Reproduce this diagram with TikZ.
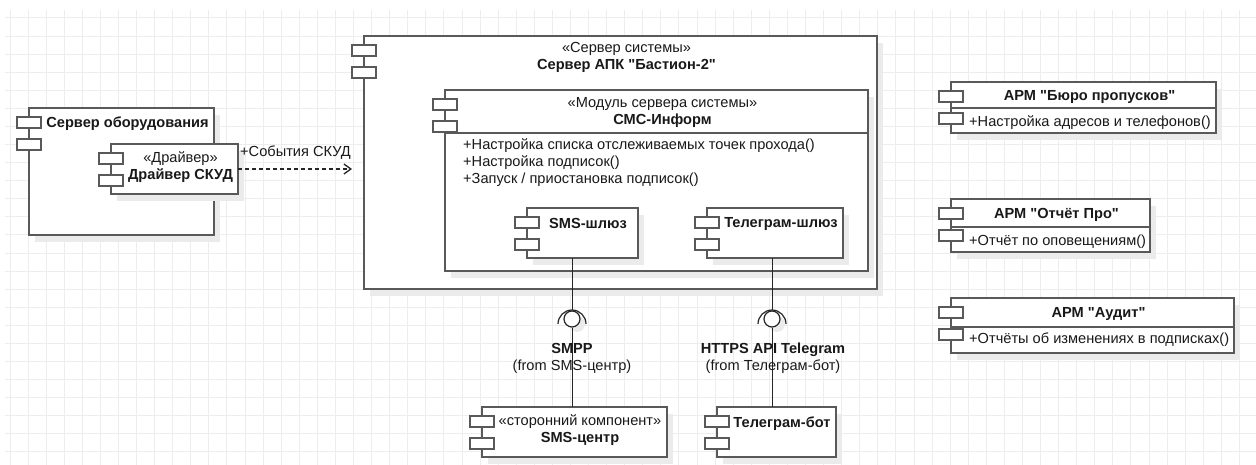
\documentclass[tikz,border=0pt]{standalone}
\usepackage{fontspec}
\setmainfont{Liberation Sans}[Ligatures=TeXOff]
\usetikzlibrary{arrows.meta,shadows}
\definecolor{linec}{HTML}{595959}
\definecolor{gridc}{HTML}{EDEDED}
\definecolor{shadowc}{HTML}{EBEBEB}
\begin{document}
\begin{tikzpicture}[x=1pt,y=-1pt,
  comp/.style={draw=linec, line width=1.4pt, fill=white, outer sep=0pt, inner sep=0pt, anchor=north west,
    drop shadow={shadow xshift=6pt, shadow yshift=-7pt, fill=shadowc, opacity=1}},
  cicon/.style={draw=linec, line width=1.4pt, fill=white},
  txt/.style={font=\fontsize{14.6}{17}\selectfont, text=black!90, inner sep=0pt, align=center},
  btxt/.style={txt, font=\fontsize{14.6}{17}\selectfont\bfseries},
  conn/.style={draw=black!85, line width=1pt},
  lolli/.style={draw=black!85, line width=1.2pt, fill=white, circle, minimum size=16pt, inner sep=0pt,
    drop shadow={shadow xshift=5pt, shadow yshift=-5pt, fill=shadowc, opacity=1}},
  dep/.style={draw=black!85, line width=1.3pt, dash pattern=on 4pt off 3pt, -{Straight Barb[length=7pt,width=10pt]}}]
\useasboundingbox (0,0) rectangle (1256,465);
\fill[white] (0,0) rectangle (1256,465);
% background grid
\foreach \i in {0,...,68} \draw[gridc, line width=1pt] (10+18.08*\i,10) -- (10+18.08*\i,465);
\foreach \j in {0,...,24} \draw[gridc, line width=1pt] (5,18+18.08*\j) -- (1256,18+18.08*\j);

% equipment server
\node[comp, minimum width=185pt, minimum height=127pt] (hw) at (29,108) {};
\node[comp, minimum width=127pt, minimum height=50pt] (drv) at (111,144) {};
\node[btxt] (hwT) at (127.5,123.5) {Сервер оборудования};
\node[txt] (drvT) at (180.5,167.5) {«Драйвер»\\\textbf{Драйвер СКУД}};

% system server
\node[comp, minimum width=513pt, minimum height=253pt] (srv) at (364,36) {};
\node[txt] (srvT) at (626.5,57.5) {«Сервер системы»\\\textbf{Сервер АПК "Бастион-2"}};
\node[comp, minimum width=423pt, minimum height=181pt] (inf) at (445,90) {};
\draw[draw=linec, line width=1.4pt] (inf.west |- 0,133) -- (inf.east |- 0,133);
\node[txt] (infT) at (662.5,112) {«Модуль сервера системы»\\\textbf{СМС-Информ}};
\node[txt, align=left, anchor=west] (infOps) at (463,163) {+Настройка списка отслеживаемых точек прохода()\\+Настройка подписок()\\+Запуск / приостановка подписок()};
\node[comp, minimum width=111pt, minimum height=50pt] (gwSms) at (527,208) {};
\node[btxt] (gwSmsT) at (588,223.5) {SMS-шлюз};
\node[comp, minimum width=136pt, minimum height=50pt] (gwTg) at (707,208) {};
\node[btxt] (gwTgT) at (781,223.5) {Телеграм-шлюз};

% external components
\node[comp, minimum width=185pt, minimum height=50pt] (smsC) at (482,407) {};
\node[txt] (smsCT) at (580,430) {«сторонний компонент»\\\textbf{SMS-центр}};
\node[comp, minimum width=119pt, minimum height=50pt] (tgBot) at (717,407) {};
\node[btxt] (tgBotT) at (782,423.5) {Телеграм-бот};

% interfaces
\node[lolli] (smpp) at (572,319) {};
\coordinate (smppArc) at (572,324);
\draw[conn] (gwSms.south -| smpp) -- ([yshift=14pt]smppArc);
\draw[conn] (smsC.north -| smpp) -- (smpp.south);
\draw[conn, line width=1.2pt] ([shift={(180:14)}]smppArc) arc (180:360:14);
\node[txt] (smppT) at (572,358) {\textbf{SMPP}\\(from SMS-центр)};

\node[lolli] (tgApi) at (772,319) {};
\coordinate (tgApiArc) at (772,324);
\draw[conn] (gwTg.south -| tgApi) -- ([yshift=14pt]tgApiArc);
\draw[conn] (tgBot.north -| tgApi) -- (tgApi.south);
\draw[conn, line width=1.2pt] ([shift={(180:14)}]tgApiArc) arc (180:360:14);
\node[txt] (tgApiT) at (773,358) {\textbf{HTTPS API Telegram}\\(from Телеграм-бот)};

% events
\draw[dep] (drv) -- ([xshift=-12pt]drv -| srv.west);
\node[txt, anchor=west] (evLbl) at (240,152.5) {+События СКУД};

% workstations
\node[comp, minimum width=265pt, minimum height=51pt] (armBuro) at (951,82) {};
\draw[draw=linec, line width=1.4pt] (armBuro.west |- 0,108) -- (armBuro.east |- 0,108);
\node[btxt] (armBuroT) at (1089.5,96.5) {АРМ "Бюро пропусков"};
\node[txt, anchor=west] (armBuroOp) at (969,123) {+Настройка адресов и телефонов()};

\node[comp, minimum width=199pt, minimum height=53pt] (armRep) at (951,199) {};
\draw[draw=linec, line width=1.4pt] (armRep.west |- 0,227) -- (armRep.east |- 0,227);
\node[btxt] (armRepT) at (1056.5,215) {АРМ "Отчёт Про"};
\node[txt, anchor=west] (armRepOp) at (969,242) {+Отчёт по оповещениям()};

\node[comp, minimum width=283pt, minimum height=55pt] (armAud) at (951,298) {};
\draw[draw=linec, line width=1.4pt] (armAud.west |- 0,327) -- (armAud.east |- 0,327);
\node[btxt] (armAudT) at (1098.5,314) {АРМ "Аудит"};
\node[txt, anchor=west] (armAudOp) at (969,339.5) {+Отчёты об изменениях в подписках()};

% component icons
\foreach \b in {hw,drv,srv,inf,gwSms,gwTg,smsC,tgBot,armBuro,armRep,armAud} {
  \draw[cicon] ([shift={(-12,9)}]\b.north west) rectangle ([shift={(12,20)}]\b.north west);
  \draw[cicon] ([shift={(-12,31)}]\b.north west) rectangle ([shift={(12,42)}]\b.north west);
}
\end{tikzpicture}
\end{document}
